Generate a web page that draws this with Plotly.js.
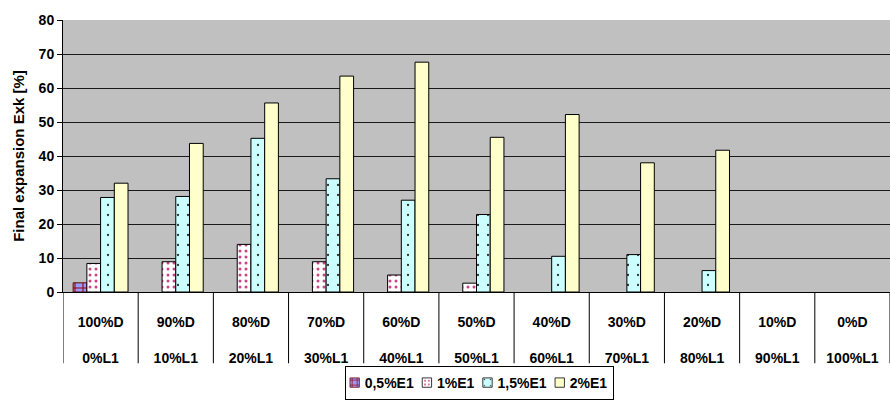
<!DOCTYPE html>
<html>
<head>
<meta charset="utf-8">
<script src="https://cdn.plot.ly/plotly-3.0.1.min.js"></script>
<style>
  html, body { margin: 0; padding: 0; background: #ffffff; }
  #chart { width: 890px; height: 401px; }
</style>
</head>
<body>
<div id="chart"></div>
<script>
// Categories (two-line labels)
const categories = ["c1","c2","c3","c4","c5","c6","c7","c8","c9","c10","c11"];
const topLabels = ["100%D","90%D","80%D","70%D","60%D","50%D","40%D","30%D","20%D","10%D","0%D"];
const bottomLabels = ["0%L1","10%L1","20%L1","30%L1","40%L1","50%L1","60%L1","70%L1","80%L1","90%L1","100%L1"];

// Series values (Final expansion Exk [%])
const seriesNames = ["0,5%E1","1%E1","1,5%E1","2%E1"];
const e05 = [2.7, null, null, null, null, null, null, null, null, null, null];
const e10 = [8.4, 8.9, 14.0, 8.9, 5.0, 2.6, null, null, null, null, null];
const e15 = [27.8, 28.1, 45.2, 33.3, 27.0, 22.8, 10.5, 11.0, 6.3, null, null];
const e20 = [32.0, 43.7, 55.6, 63.5, 67.6, 45.5, 52.2, 38.0, 41.7, null, null];

const yTicks = [0,10,20,30,40,50,60,70,80];

const FONT = "Arial, Liberation Sans, sans-serif";

const styles = [
  {color: "#9999FF", pattern: {shape: "+", fgcolor: "#990000", bgcolor: "#9999FF", size: 8, solidity: 0.25}},
  {color: "#FFFFFF", pattern: {shape: ".", fgcolor: "#CC4488", bgcolor: "#FFFFFF", size: 6, solidity: 0.2}},
  {color: "#CCFFFF", pattern: {shape: ".", fgcolor: "#333333", bgcolor: "#CCFFFF", size: 10, solidity: 0.04}},
  {color: "#FFFFCC"}
];
const values = [e05, e10, e15, e20];

const traces = values.map((v, i) => ({
  type: "bar",
  name: seriesNames[i],
  x: categories,
  y: v,
  marker: Object.assign({line: {color: i === 0 ? "#660000" : "#000000", width: 1}}, styles[i]),
  hoverinfo: "y"
}));

const tickText = topLabels.map((t, i) => t + "<br><br>" + bottomLabels[i]);

// vertical separators in the category label area
const shapes = [];
for (let i = 0; i <= categories.length; i++) {
  shapes.push({
    type: "line", xref: "x", yref: "paper",
    x0: i - 0.5, x1: i - 0.5, y0: 0, y1: -0.262,
    line: {color: "#000000", width: 1}
  });
}

const layout = {
  width: 890, height: 401,
  margin: {l: 63, r: 0, t: 20, b: 109},
  paper_bgcolor: "#FFFFFF",
  plot_bgcolor: "#C0C0C0",
  font: {family: FONT, color: "#000000", weight: 700},
  barmode: "group",
  bargap: 0.27,
  bargroupgap: 0,
  showlegend: true,
  legend: {
    orientation: "h",
    x: 0.5, xanchor: "center",
    y: -0.397, yanchor: "bottom",
    bordercolor: "#000000", borderwidth: 1,
    font: {size: 14, family: FONT, weight: 700},
    itemwidth: 30,
    tracegroupgap: 0
  },
  xaxis: {
    type: "category",
    tickmode: "array",
    tickvals: categories,
    ticktext: tickText,
    ticks: "",
    ticklabelstandoff: 17,
    tickfont: {size: 14, family: FONT, weight: 700},
    showgrid: false,
    showline: true, linecolor: "#000000", linewidth: 1,
    range: [-0.5, categories.length - 0.5],
    fixedrange: true
  },
  yaxis: {
    range: [0, 80],
    tickmode: "array",
    tickvals: yTicks,
    ticks: "outside", ticklen: 5, tickcolor: "#000000",
    tickfont: {size: 14, family: FONT, weight: 700},
    showgrid: true, gridcolor: "#1a1a1a", gridwidth: 1,
    showline: true, linecolor: "#000000", linewidth: 1,
    zeroline: false,
    title: {text: "Final expansion Exk [%]", font: {size: 15, family: FONT, weight: 700}, standoff: 10},
    fixedrange: true
  },
  shapes: shapes
};

const gd = document.getElementById("chart");
const TR = /translate\(\s*([-\d.]+)[ ,]+([-\d.]+)\s*\)/;

// compact the legend entries (small symbol close to its text, like the original)
function compactLegend() {
  try {
    const leg = gd.querySelector("g.legend");
    if (!leg) return;
    const items = leg.querySelectorAll("g.traces");
    const TX = 30;
    let x = -10;
    let W = 0;
    items.forEach((item) => {
      const m = TR.exec(item.getAttribute("transform") || "");
      const y = m ? parseFloat(m[2]) : 0;
      item.querySelectorAll("g.legendpoints path").forEach(p => p.setAttribute("transform", "translate(20,0) scale(0.78)"));
      const txt = item.querySelector("text.legendtext");
      txt.setAttribute("x", TX);
      txt.querySelectorAll("tspan").forEach(t => { if (t.hasAttribute("x")) t.setAttribute("x", TX); });
      const w = txt.getBBox().width;
      item.setAttribute("transform", "translate(" + x + "," + y + ")");
      W = x + TX + w + 6;
      x += w + 23;
    });
    leg.querySelectorAll("rect.bg").forEach(r => r.setAttribute("width", W));
    const lm = TR.exec(leg.getAttribute("transform") || "");
    const ly = lm ? parseFloat(lm[2]) : 0;
    const lx = 479 - W / 2;
    leg.setAttribute("transform", "translate(" + lx + "," + ly + ")");
  } catch (e) { /* keep default legend */ }
}

Plotly.newPlot(gd, traces, layout, {displayModeBar: false, staticPlot: true}).then(() => {
  compactLegend();
  gd.on("plotly_afterplot", compactLegend);
  setTimeout(compactLegend, 50);
});
</script>
</body>
</html>
